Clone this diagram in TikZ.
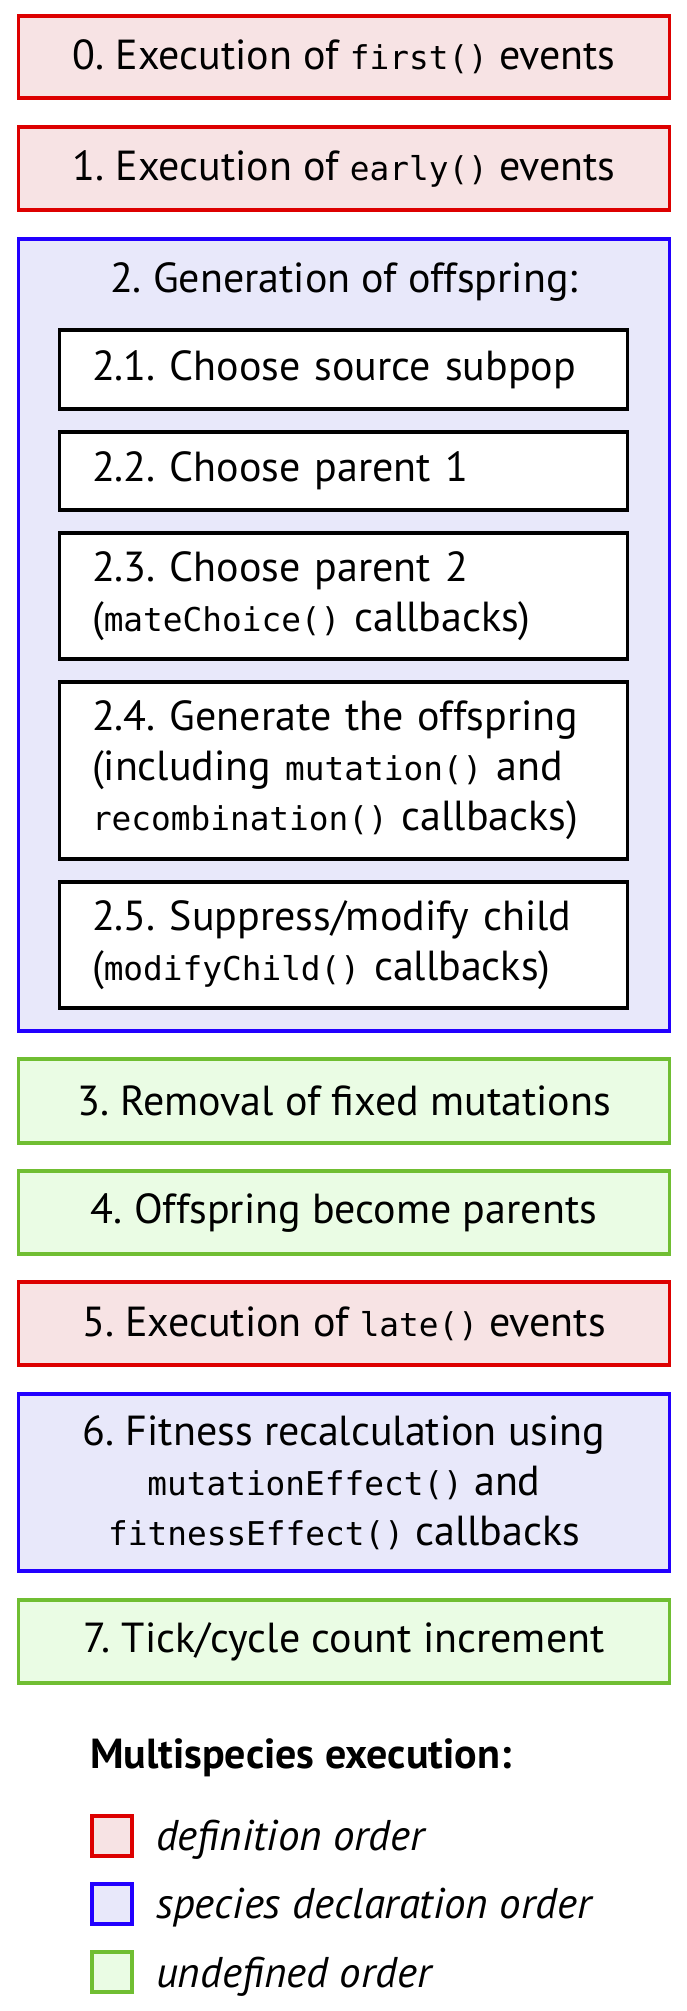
\documentclass[tikz,border=0pt]{standalone}
\usepackage{fontspec}
\setmainfont{PT Sans}
\newfontfamily\codefont[Scale=0.78]{DejaVu Sans Mono}
\newcommand{\code}[1]{{\codefont #1}}
\frenchspacing
\definecolor{ordred}{RGB}{221,0,0}
\definecolor{ordredfill}{RGB}{247,227,228}
\definecolor{ordblue}{RGB}{34,0,255}
\definecolor{ordbluefill}{RGB}{232,232,250}
\definecolor{ordgreen}{RGB}{112,190,50}
\definecolor{ordgreenfill}{RGB}{234,252,228}
\begin{document}
\begin{tikzpicture}[x=1pt,y=-1pt,
  every node/.style={font=\fontsize{42}{50}\selectfont\frenchspacing, inner sep=0pt, outer sep=0pt},
  stage/.style={draw, line width=3.5pt, minimum width=651pt},
  redstage/.style={stage, draw=ordred, fill=ordredfill},
  bluestage/.style={stage, draw=ordblue, fill=ordbluefill},
  greenstage/.style={stage, draw=ordgreen, fill=ordgreenfill},
  substage/.style={draw=black, fill=white, line width=3.5pt, minimum width=567.6pt,
    text width=503pt, align=left},
  keybox/.style={line width=3.5pt, minimum width=40pt, minimum height=40pt},
  keytext/.style={anchor=base west, font=\fontsize{43}{50}\selectfont\itshape}
]
\useasboundingbox (0,0) rectangle (687,2011);

% main stages of a tick
\node[redstage, minimum height=82pt] (s0) at (344,57) {0. Execution of \code{first()} events};
\node[redstage, minimum height=83pt] (s1) at (344,168.5) {1. Execution of \code{early()} events};

\node[bluestage, minimum height=792pt] (s2) at (344,635) {};
\node[anchor=base] (s2title) at (344,292) {2. Generation of offspring:};

% sub-steps of offspring generation
\node[substage, minimum height=79pt] (s21) at (343.5,369.5) {2.1. Choose source subpop};
\node[substage, minimum height=78pt] (s22) at (343.5,471) {2.2. Choose parent 1};
\node[substage, minimum height=126pt] (s23) at (343.5,596) {2.3. Choose parent 2\\(\code{mateChoice()} callbacks)};
\node[substage, minimum height=177pt] (s24) at (343.5,770.5) {2.4. Generate the offspring\\(including \code{mutation()} and\\\code{recombination()} callbacks)};
\node[substage, minimum height=126pt] (s25) at (343.5,945) {2.5. Suppress/modify child\\(\code{modifyChild()} callbacks)};

\node[greenstage, minimum height=84pt] (s3) at (344,1101) {3. Removal of fixed mutations};
\node[greenstage, minimum height=83pt] (s4) at (344,1212.5) {4. Offspring become parents};
\node[redstage, minimum height=83pt] (s5) at (344,1323.5) {5. Execution of \code{late()} events};
\node[bluestage, minimum height=177pt, align=center] (s6) at (344,1482.5) {6. Fitness recalculation using\\\code{mutationEffect()} and\\\code{fitnessEffect()} callbacks};
\node[greenstage, minimum height=83pt] (s7) at (344,1641.5) {7. Tick/cycle count increment};

% legend
\node[anchor=base west, font=\fontsize{42}{50}\selectfont\bfseries] (keytitle) at (90,1768) {Multispecies execution:};
\node[keybox, draw=ordred, fill=ordredfill] (k1) at (112,1836) {};
\node[keytext] (t1) at (156,1850) {definition order};
\node[keybox, draw=ordblue, fill=ordbluefill] (k2) at (112,1904) {};
\node[keytext] (t2) at (156,1918) {species declaration order};
\node[keybox, draw=ordgreen, fill=ordgreenfill] (k3) at (112,1972) {};
\node[keytext] (t3) at (156,1987) {undefined order};
\end{tikzpicture}
\end{document}
